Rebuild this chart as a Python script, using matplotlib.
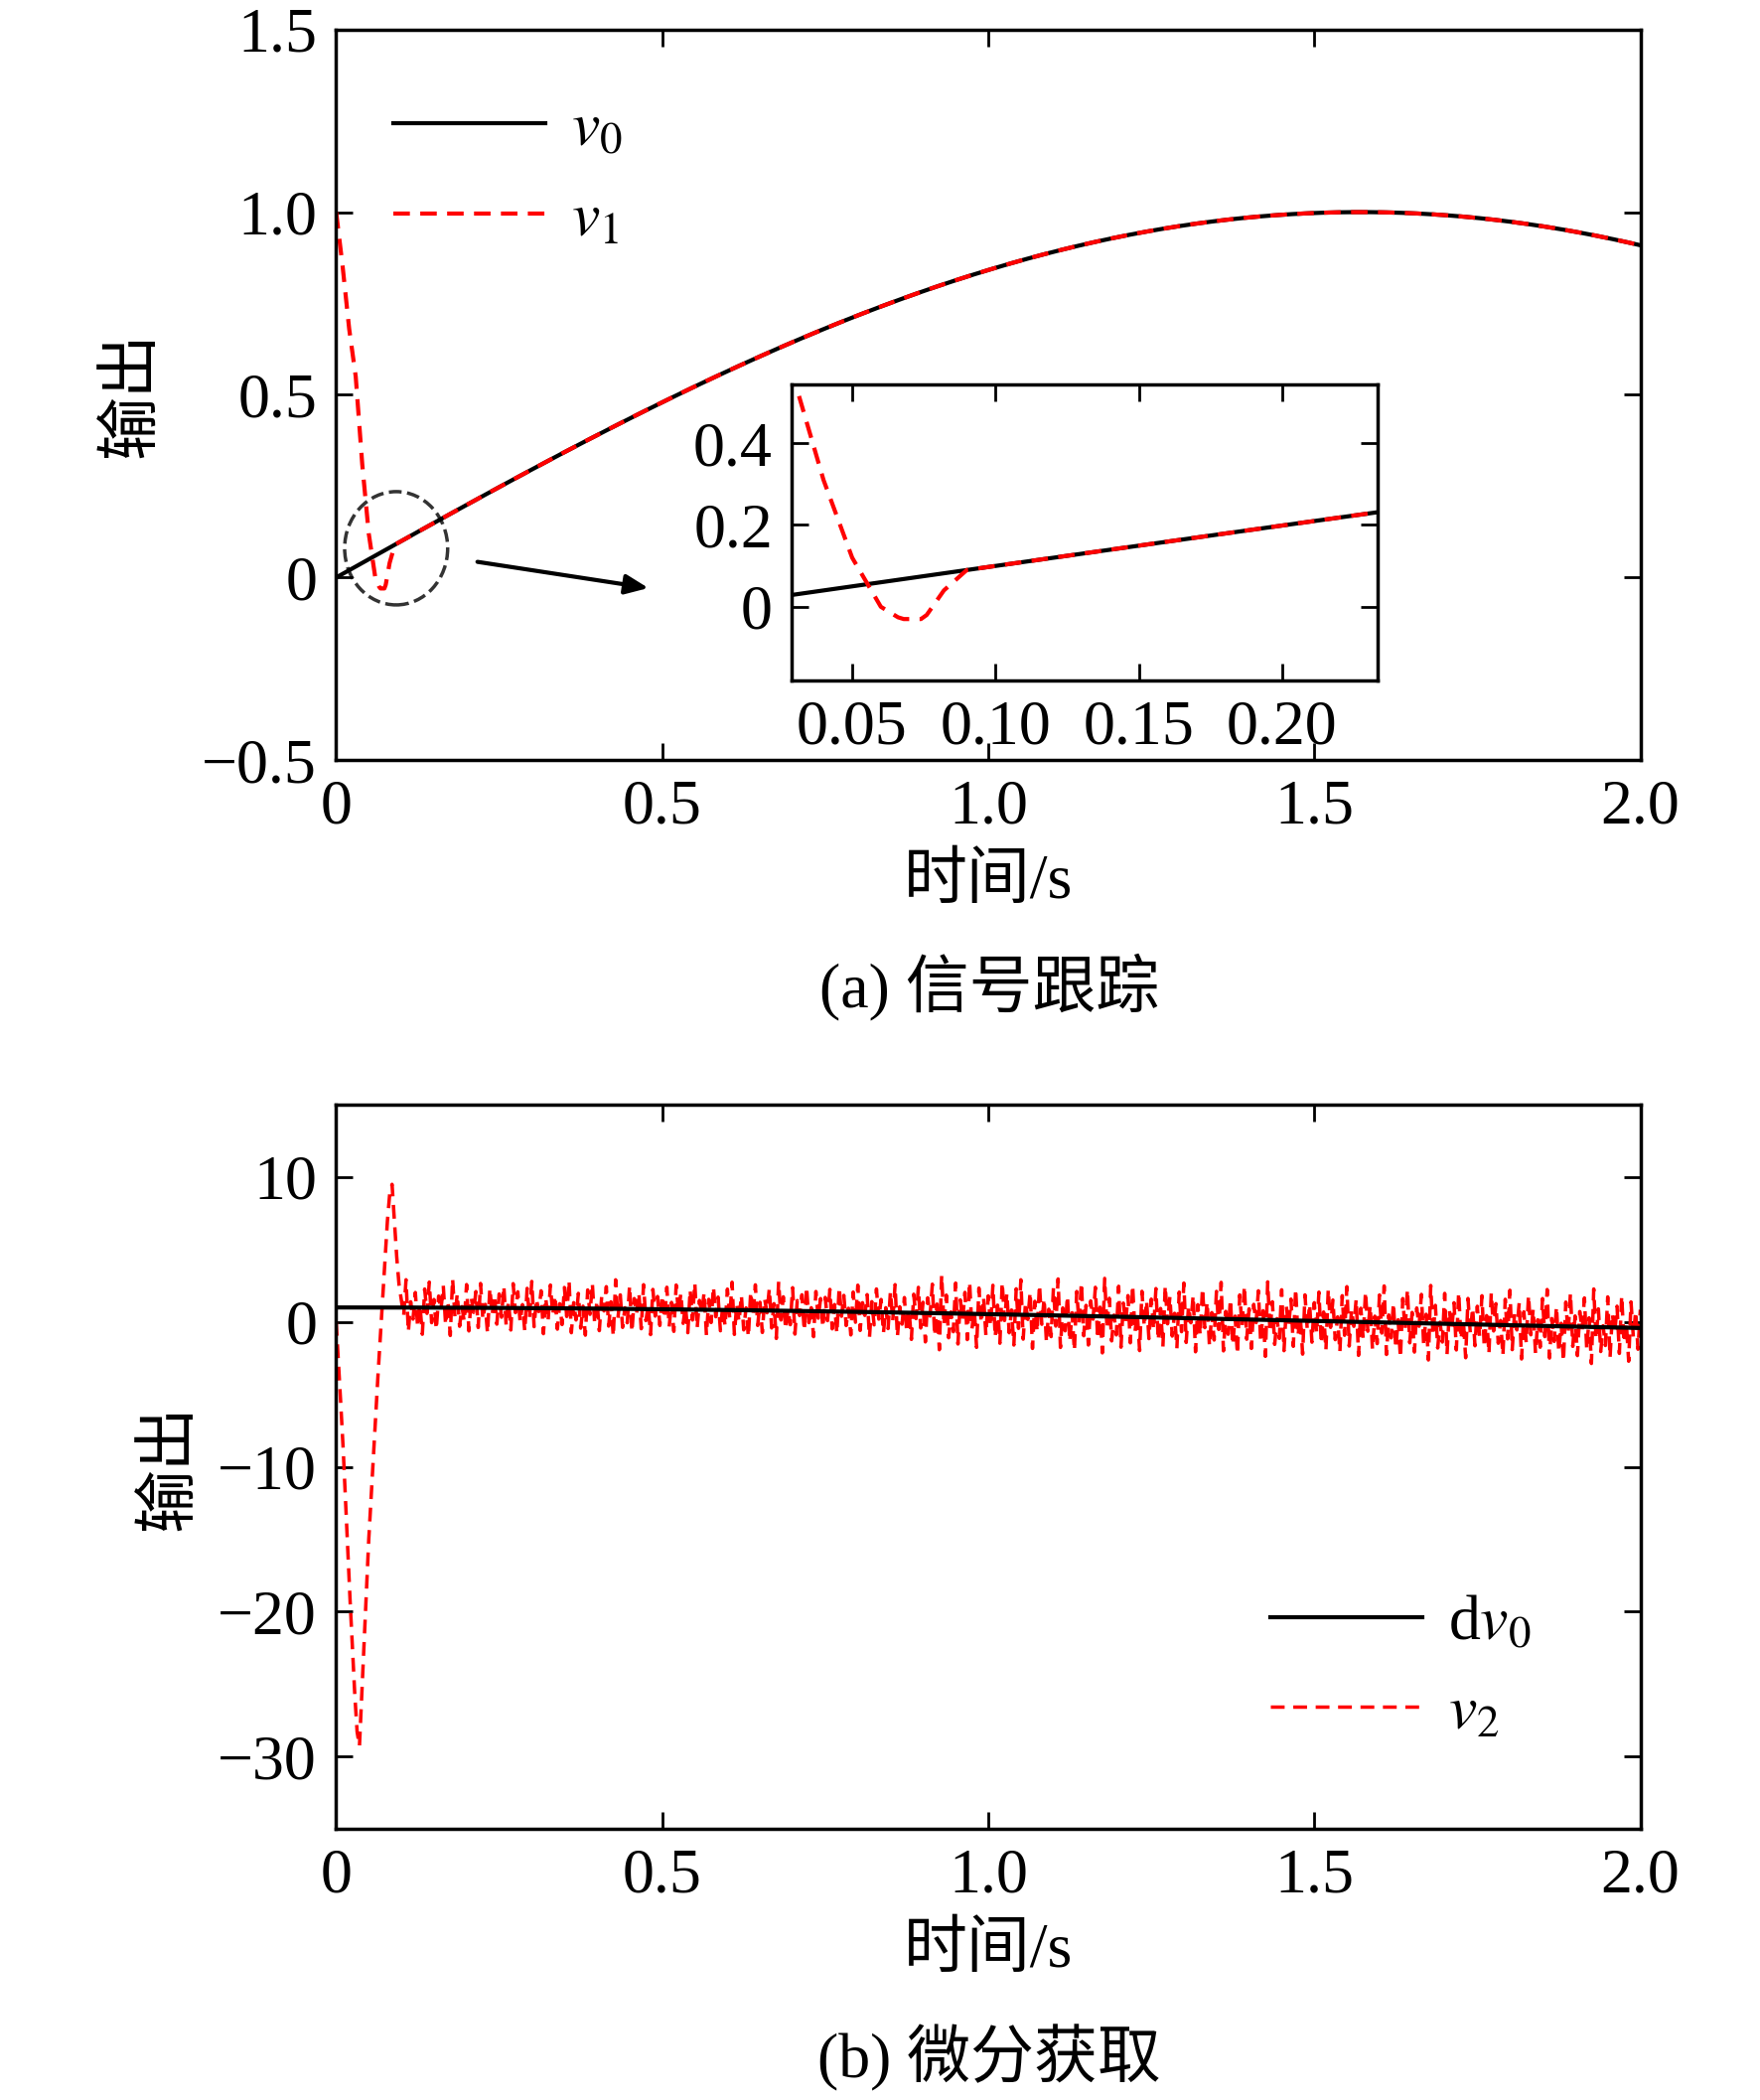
import numpy as np
import matplotlib.pyplot as plt
from matplotlib.patches import Ellipse

plt.rcParams['font.family'] = ['Liberation Serif', 'Noto Sans CJK SC']
plt.rcParams['mathtext.fontset'] = 'stix'
plt.rcParams['axes.unicode_minus'] = True
FS = 46

# time axis and reference signals
t = np.linspace(0, 2.0, 1001)
v0 = np.sin(t)
dv0 = np.cos(t)
tn = np.linspace(0, 2.0, 561)

# transient of tracked signal v1
t1_knots = [0.0, 0.01, 0.02, 0.03, 0.04, 0.05, 0.06, 0.067, 0.075, 0.082, 0.09]
v1_knots = [1.0, 0.85, 0.68, 0.55, 0.31, 0.12, 0.0, -0.03, -0.03, 0.04, 0.09]

# transient of derivative v2
t2_knots = [0.0, 0.01, 0.02, 0.03, 0.035, 0.05, 0.065, 0.08, 0.085, 0.095, 0.1]
v2_knots = [0.0, -8.0, -18.0, -27.0, -30.0, -15.0, -3.0, 8.0, 10.0, 3.0, 1.5]

# noise offsets of v2 (cycled along the time axis)
noise = [1.2, -0.8, 1.9, -1.5, 0.6, -1.9, 2.1, -0.4, 1.4, -1.2, 0.3, -2.0, 1.7, -0.9,
         2.3, -1.6, 0.8, -0.3, 1.5, -2.2, 0.9, -1.1, 2.0, -0.6, 1.1, -1.8, 0.4, -1.4,
         1.8, -0.7, 2.4, -2.1, 0.5, -1.0, 1.3, -1.7, 0.2, -2.3, 1.6, -0.5, 2.2, -1.3,
         0.7, -1.9, 1.0, -0.2, 1.9, -1.5, 0.6, -2.4, 2.5, -0.8, 1.2, -1.6, 0.1, -1.2,
         2.0, -2.0, 0.9, -0.4, 1.4, -1.7, 2.1, -1.0, 0.3, -2.2, 1.7, -0.6, 1.1, -1.4]

v1 = np.where(t < 0.09, np.interp(t, t1_knots, v1_knots), v0)
amp = np.where(tn < 0.9, 0.8, 1.05)
nz = np.array([noise[i % len(noise)] for i in range(len(tn))])
v2 = np.where(tn <= 0.1, np.interp(tn, t2_knots, v2_knots), np.cos(tn) + amp * nz)

fig = plt.figure(figsize=(17.72, 21.14), dpi=100)

def style(ax):
    ax.tick_params(direction='in', top=True, right=True, labelsize=FS, length=12, width=2, pad=14)
    for s in ax.spines.values():
        s.set_linewidth(2.5)

def fmt(v, pos=None):
    if abs(v) < 1e-9:
        return '0'
    return ('%.1f' % v).replace('-', '\u2212')

# --- (a) ---
ax1 = fig.add_axes([0.191, 0.638, 0.741, 0.348])
ax1.plot(t, v0, color='black', lw=3, label='$v_0$')
ax1.plot(t, v1, color='red', lw=3, ls=(0, (4, 2.5)), label='$v_1$')
ax1.set_xlim(0, 2.0)
ax1.set_ylim(-0.5, 1.5)
ax1.set_xticks([0, 0.5, 1.0, 1.5, 2.0])
ax1.set_yticks([-0.5, 0, 0.5, 1.0, 1.5])
ax1.xaxis.set_major_formatter(fmt)
ax1.yaxis.set_major_formatter(fmt)
style(ax1)
ax1.set_xlabel('时间/s', fontsize=FS, labelpad=12)
ax1.set_ylabel('输出', fontsize=FS, labelpad=28)
ax1.legend(loc='upper left', fontsize=FS, frameon=False, handlelength=2.4, handletextpad=0.4,
           bbox_to_anchor=(0.0, 0.98))
ax1.add_patch(Ellipse((0.092, 0.08), 0.158, 0.31, fill=False, ls='--', lw=2.5, color='#333333'))
ax1.annotate('', xy=(0.483, -0.03), xytext=(0.2125, 0.044),
             arrowprops=dict(arrowstyle='-|>,head_length=1.4,head_width=0.6', color='black', lw=3))
fig.text(0.562, 0.530, '(a) 信号跟踪', fontsize=FS, ha='center', va='center')

ins = fig.add_axes([0.450, 0.676, 0.333, 0.141])
ins.plot(t, v0, color='black', lw=3)
ins.plot(t, v1, color='red', lw=3, ls=(0, (4, 2.5)))
ins.set_xlim(0.029, 0.2335)
ins.set_ylim(-0.18, 0.544)
ins.set_xticks([0.05, 0.10, 0.15, 0.20])
ins.set_yticks([0, 0.2, 0.4])
ins.xaxis.set_major_formatter(lambda v, p: '%.2f' % v)
ins.yaxis.set_major_formatter(fmt)
style(ins)

# --- (b) ---
ax2 = fig.add_axes([0.191, 0.129, 0.741, 0.345])
ax2.plot(t, dv0, color='black', lw=3, label='d$v_0$', zorder=3)
ax2.plot(tn, v2, color='red', lw=2.5, ls=(0, (4, 2.5)), label='$v_2$')
ax2.set_xlim(0, 2.0)
ax2.set_ylim(-35, 15)
ax2.set_xticks([0, 0.5, 1.0, 1.5, 2.0])
ax2.set_yticks([-30, -20, -10, 0, 10])
ax2.xaxis.set_major_formatter(fmt)
ax2.yaxis.set_major_formatter(lambda v, p: ('%d' % v).replace('-', '\u2212'))
style(ax2)
ax2.set_xlabel('时间/s', fontsize=FS, labelpad=12)
ax2.set_ylabel('输出', fontsize=FS, labelpad=12)
ax2.legend(loc='lower right', fontsize=FS, frameon=False, handlelength=2.4, handletextpad=0.4,
           bbox_to_anchor=(0.96, 0.04))
fig.text(0.562, 0.02, '(b) 微分获取', fontsize=FS, ha='center', va='center')

fig.savefig('out.png', dpi=100)
